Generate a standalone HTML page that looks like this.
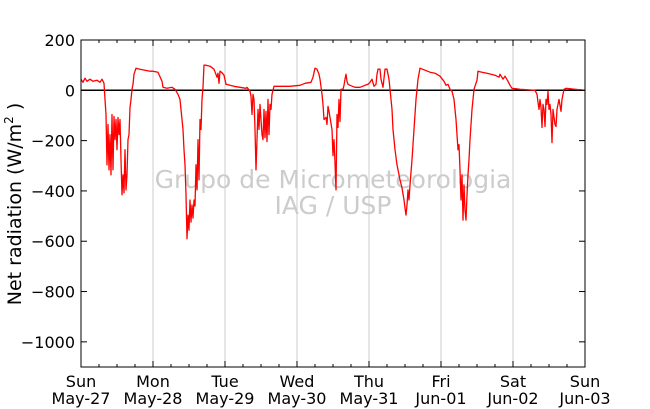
<!DOCTYPE html>
<html><head><meta charset="utf-8"><style>
html,body{margin:0;padding:0;background:#fff;}
svg{display:block;font-family:"DejaVu Sans","Liberation Sans",sans-serif;}
</style></head><body>
<svg id="chart" width="650" height="409" viewBox="0 0 650 409">
<g id="grid"></g>
<text x="333" y="188" text-anchor="middle" font-size="25" fill="#cccccc">Grupo de Micrometeorologia</text>
<text x="333" y="214" text-anchor="middle" font-size="25" fill="#cccccc">IAG / USP</text>
<g id="zero"></g>
<g id="series"></g>
<g id="axes"></g>
<text transform="translate(21,204) rotate(-90)" text-anchor="middle" font-size="19" fill="#000">Net radiation (W/m<tspan font-size="12" dy="-8">2</tspan><tspan dy="8"> )</tspan></text>
</svg>
<script>
const dayLabels = ["Sun","Mon","Tue","Wed","Thu","Fri","Sat","Sun"];
const dateLabels = ["May-27","May-28","May-29","May-30","May-31","Jun-01","Jun-02","Jun-03"];
const yTicks = [200,0,-200,-400,-600,-800,-1000];
const yTickLabels = ["200","0","\u2212200","\u2212400","\u2212600","\u2212800","\u22121000"];
// minutes since Sun May-27 00:00
const times = [0,40,80,120,180,240,320,380,420,460,480,500,520,540,560,580,600,620,640,660,680,700,720,740,760,780,800,820,840,860,880,900,920,940,960,980,1000,1020,1040,1060,1080,1100,1180,1280,1380,1440,1540,1620,1640,1720,1820,1880,1940,1980,2000,2040,2060,2080,2100,2120,2140,2160,2180,2200,2220,2240,2260,2280,2300,2320,2340,2360,2380,2400,2420,2440,2460,2500,2580,2660,2720,2740,2760,2780,2820,2860,2900,3060,3300,3320,3380,3400,3420,3440,3460,3480,3500,3520,3540,3560,3580,3620,3640,3660,3680,3700,3720,3740,3760,3780,3800,3820,3860,3940,4180,4380,4480,4600,4640,4680,4720,4760,4780,4820,4840,4860,4900,4920,4940,4960,5000,5020,5040,5060,5080,5100,5120,5140,5160,5180,5200,5240,5260,5280,5300,5320,5340,5380,5480,5580,5680,5740,5780,5820,5860,5900,5920,5940,5980,6000,6040,6080,6120,6160,6180,6220,6240,6280,6320,6380,6420,6460,6480,6500,6520,6540,6560,6580,6620,6660,6700,6740,6780,6880,6980,7080,7180,7260,7300,7340,7380,7420,7460,7500,7540,7560,7580,7600,7620,7640,7660,7680,7700,7720,7740,7760,7780,7820,7860,7920,7940,8020,8120,8280,8360,8380,8440,8480,8540,8580,8620,8780,9080,9120,9140,9160,9180,9200,9220,9240,9260,9280,9300,9320,9340,9360,9380,9400,9420,9440,9480,9500,9520,9560,9600,9620,9660,9700,9880,10080];
const netRad = [44,32,48,36,44,36,40,32,44,28,-36,-96,-296,-136,-316,-176,-336,-96,-316,-104,-196,-116,-236,-108,-176,-116,-276,-416,-336,-408,-236,-396,-336,-196,-176,-68,-36,4,24,64,76,88,84,80,76,76,72,36,12,8,12,4,-16,-36,-76,-156,-236,-296,-416,-590,-496,-556,-436,-524,-456,-508,-436,-460,-296,-396,-196,-356,-116,-156,-36,12,100,100,96,84,52,68,28,76,70,60,24,16,8,12,-4,-24,-96,-16,-36,-156,-316,-196,-76,-156,-56,-176,-196,-76,-188,-84,-204,-36,-176,-56,-76,-16,16,16,16,20,28,32,52,88,84,64,44,-16,-56,-116,-108,-136,-64,-84,-132,-156,-260,-196,-288,-396,-96,-148,-36,-124,4,4,20,44,64,36,24,20,12,12,20,24,32,44,16,24,64,84,84,44,12,84,84,44,4,-76,-156,-236,-296,-356,-388,-436,-468,-496,-456,-396,-436,-376,-276,-156,-36,44,88,80,72,68,56,36,20,24,4,-4,-36,-116,-236,-216,-316,-436,-336,-516,-376,-476,-516,-416,-336,-276,-196,-76,4,40,76,72,68,60,52,64,44,56,36,20,8,4,0,-16,-48,-76,-36,-68,-148,-56,-76,-144,-36,-56,-4,-76,-56,-96,-208,-76,-136,-144,-76,-36,-84,-36,4,8,4,0];

const L=81,R=585,T=40,B=367, X0=0,X1=10080, Y0=-1100,Y1=200;
const sx=t=>L+(t-X0)/(X1-X0)*(R-L);
const sy=v=>T+(Y1-v)/(Y1-Y0)*(B-T);
const NS="http://www.w3.org/2000/svg";
function mk(tag,attrs,parent){const e=document.createElementNS(NS,tag);for(const k in attrs)e.setAttribute(k,attrs[k]);parent.appendChild(e);return e;}
const grid=document.getElementById('grid'), axes=document.getElementById('axes'), series=document.getElementById('series'), zero=document.getElementById('zero');
for(let d=1;d<7;d++){const x=sx(d*1440);
 const g=mk('line',{x1:x,x2:x,y1:T,y2:B,stroke:'#cccccc','stroke-width':1},grid);
 
 }
const z=mk('line',{x1:L,x2:R,y1:sy(0),y2:sy(0),stroke:'#000','stroke-width':1.5},zero);


let d='';times.forEach((t,i)=>{d+=(i?'L':'M')+sx(t).toFixed(1)+' '+sy(netRad[i]).toFixed(1);});
const p=mk('path',{d:d,fill:'none',stroke:'#ff0000','stroke-width':1.3,'stroke-linejoin':'round'},series);


const fr=mk('rect',{x:L,y:T,width:R-L,height:B-T,fill:'none',stroke:'#000','stroke-width':1},axes);


for(let h=0;h<=168;h+=6){const x=sx(h*60), len=(h%24===0)?6:3;
 mk('line',{x1:x,x2:x,y1:B,y2:B-len,stroke:'#000'},axes);
 mk('line',{x1:x,x2:x,y1:T,y2:T+len,stroke:'#000'},axes);}
dayLabels.forEach((lab,i)=>{const x=sx(i*1440);
 const t1=mk('text',{x:x,y:387,'text-anchor':'middle','font-size':16},axes);t1.textContent=lab;
 
 
 const t2=mk('text',{x:x,y:404,'text-anchor':'middle','font-size':16},axes);t2.textContent=dateLabels[i];
 
 });
yTicks.forEach((v,i)=>{const y=sy(v);
 mk('line',{x1:L,x2:L+6,y1:y,y2:y,stroke:'#000'},axes);
 mk('line',{x1:R,x2:R-6,y1:y,y2:y,stroke:'#000'},axes);
 const t=mk('text',{x:75,y:y+6,'text-anchor':'end','font-size':16},axes);t.textContent=yTickLabels[i];
 
 });
</script>
</body></html>
